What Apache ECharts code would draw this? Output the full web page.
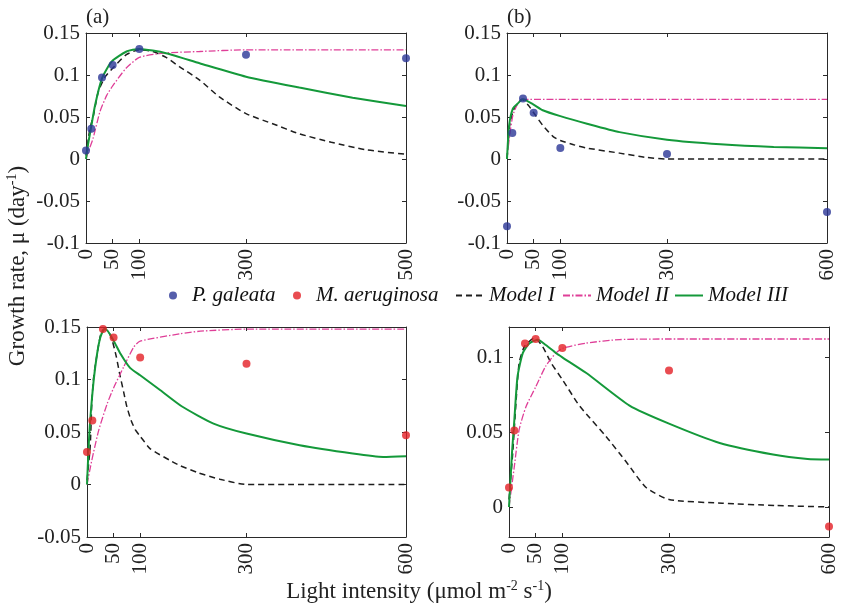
<!DOCTYPE html>
<html><head><meta charset="utf-8">
<script src="https://cdn.jsdelivr.net/npm/echarts@6/dist/echarts.min.js"></script>
<style>html,body{margin:0;padding:0;background:#fff}#c{width:841px;height:606px}</style>
</head><body><div id="c"></div>
<script>
const FONT = 'Liberation Serif';

// Tick values and labels
const xTickValues = [0, 50, 100, 300, 600];
const xTickLabelsA = ['0', '50', '100', '300', '500'];
const xTickLabelsBCD = ['0', '50', '100', '300', '600'];
const yTicksAB = [-0.1, -0.05, 0, 0.05, 0.1, 0.15];
const yTickLabelsAB = ['-0.1', '-0.05', '0', '0.05', '0.1', '0.15'];
const yTicksC = [-0.05, 0, 0.05, 0.1, 0.15];
const yTickLabelsC = ['-0.05', '0', '0.05', '0.1', '0.15'];
const yTicksD = [0, 0.05, 0.1];
const yTickLabelsD = ['0', '0.05', '0.1'];

// Panel (a) - P. galeata
const galeataA = [[0,0.010],[10,0.036],[30,0.097],[50,0.112],[100,0.131],[300,0.124],[600,0.120]];
const model1A = [[0,0.004],[7,0.035],[14,0.052],[23,0.080],[36,0.098],[50,0.108],[75,0.124],[100,0.130],[125,0.128],[150,0.121],[175,0.110],[213,0.094],[250,0.074],[300,0.054],[350,0.042],[400,0.030],[460,0.020],[525,0.011],[600,0.0056]];
const model2A = [[0,0],[5,0.010],[13,0.024],[26,0.056],[39,0.076],[50,0.087],[75,0.108],[100,0.121],[145,0.126],[213,0.128],[300,0.130],[600,0.130]];
const model3A = [[0,0],[4,0.018],[8,0.032],[17,0.064],[30,0.096],[48,0.116],[76,0.128],[100,0.131],[150,0.126],[213,0.114],[300,0.098],[400,0.085],[500,0.073],[600,0.063]];

// Panel (b) - P. galeata
const galeataB = [[0,-0.080],[10,0.031],[30,0.072],[50,0.055],[100,0.013],[300,0.006],[600,-0.063]];
const model1B = [[0,0],[5,0.040],[12,0.058],[20,0.066],[28,0.071],[40,0.064],[49,0.056],[67,0.040],[86,0.027],[100,0.022],[125,0.017],[150,0.013],[211,0.007],[260,0.002],[300,0],[600,0]];
const model2B = [[0,0],[5,0.028],[11,0.052],[20,0.066],[28,0.071],[600,0.071]];
const model3B = [[0,0],[4,0.040],[11,0.060],[20,0.066],[30,0.071],[49,0.065],[67,0.058],[100,0.051],[150,0.042],[211,0.032],[300,0.023],[400,0.0176],[500,0.0144],[600,0.0128]];

// Panel (c) - M. aeruginosa
const aerugC = [[0,0.031],[10,0.061],[30,0.148],[50,0.140],[100,0.121],[300,0.115],[600,0.047]];
const model1C = [[0,0.004],[6,0.036],[9,0.077],[12.5,0.102],[19,0.1245],[26,0.1435],[32,0.148],[40,0.146],[47,0.138],[55,0.122],[62,0.104],[69,0.088],[75,0.074],[83,0.061],[91,0.052],[100,0.046],[119,0.034],[156,0.023],[175,0.018],[210,0.011],[250,0.005],[300,0],[600,0]];
const model2C = [[0,0],[9,0.023],[22,0.0516],[38,0.077],[50,0.092],[69,0.112],[88,0.131],[100,0.1365],[175,0.1435],[213,0.146],[300,0.148],[600,0.148]];
const model3C = [[0,0],[3,0.035],[6,0.061],[12.5,0.099],[19,0.1245],[25,0.140],[31,0.147],[35,0.148],[50,0.137],[63,0.1245],[81,0.111],[100,0.104],[138,0.0897],[178,0.0745],[238,0.058],[300,0.0485],[400,0.0374],[500,0.0295],[557,0.0263],[600,0.027]];

// Panel (d) - M. aeruginosa
const aerugD = [[0,0.013],[10,0.051],[30,0.109],[50,0.112],[100,0.106],[300,0.091],[600,-0.013]];
const model1D = [[0,0.005],[7,0.036],[13,0.069],[19,0.096],[29,0.107],[48,0.1127],[63,0.107],[79,0.096],[100,0.085],[129,0.069],[145,0.062],[182,0.047],[220,0.030],[257,0.013],[300,0.005],[400,0.0025],[500,0.001],[600,0]];
const model2D = [[0,0],[10,0.027],[19,0.0515],[32,0.067],[50,0.080],[69,0.094],[88,0.1027],[102,0.106],[145,0.1093],[207,0.1116],[300,0.112],[600,0.112]];
const model3D = [[0,0],[5.6,0.036],[10,0.058],[16,0.087],[26,0.1027],[38,0.109],[54,0.1115],[69,0.108],[88,0.1027],[100,0.0998],[145,0.0893],[226,0.0676],[300,0.0556],[395,0.0427],[495,0.035],[560,0.032],[600,0.0316]];

// Legend entries
const legendNames = ['P. galeata', 'M. aeruginosa', 'Model I', 'Model II', 'Model III'];

const panels = [
  {grid:{left:86, top:33, width:320, height:210}, ymin:-0.1, ymax:0.15, yTicks:yTicksAB, yLabels:yTickLabelsAB, xLabels:xTickLabelsA, pts:galeataA, ptName:'P. galeata', m1:model1A, m2:model2A, m3:model3A},
  {grid:{left:507, top:33, width:320, height:210}, ymin:-0.1, ymax:0.15, yTicks:yTicksAB, yLabels:yTickLabelsAB, xLabels:xTickLabelsBCD, pts:galeataB, ptName:'P. galeata', m1:model1B, m2:model2B, m3:model3B},
  {grid:{left:87, top:327, width:319, height:210}, ymin:-0.05, ymax:0.15, yTicks:yTicksC, yLabels:yTickLabelsC, xLabels:xTickLabelsBCD, pts:aerugC, ptName:'M. aeruginosa', m1:model1C, m2:model2C, m3:model3C},
  {grid:{left:509, top:327, width:320, height:210}, ymin:-0.02, ymax:0.12, yTicks:yTicksD, yLabels:yTickLabelsD, xLabels:xTickLabelsBCD, pts:aerugD, ptName:'M. aeruginosa', m1:model1D, m2:model2D, m3:model3D}
];

const COLORS = {'P. galeata':'#2a3696', 'M. aeruginosa':'#e41f26', m1:'#1e1e1e', m2:'#df3f98', m3:'#14993a'};
const axisLineStyle = {color:'#2a2a2a', width:1};
const lookup = (vals, labels) => (v) => {
  const i = vals.findIndex(t => Math.abs(t - v) < 1e-9);
  return i >= 0 ? labels[i] : '';
};

const grid = [], xAxis = [], yAxis = [], series = [];
panels.forEach((p, i) => {
  grid.push(Object.assign({containLabel:false}, p.grid));
  const tickBase = {show:true, inside:true, length:4, lineStyle:axisLineStyle};
  xAxis.push({type:'value', gridIndex:i, min:0, max:600, position:'bottom',
    axisLine:{show:true, onZero:false, lineStyle:axisLineStyle},
    axisTick:Object.assign({customValues:xTickValues}, tickBase),
    axisLabel:{customValues:xTickValues, rotate:90, margin:6, formatter:lookup(xTickValues, p.xLabels),
      fontFamily:FONT, fontSize:21, color:'#222'},
    splitLine:{show:false}});
  xAxis.push({type:'value', gridIndex:i, min:0, max:600, position:'top',
    axisLine:{show:true, onZero:false, lineStyle:axisLineStyle},
    axisTick:Object.assign({customValues:xTickValues}, tickBase),
    axisLabel:{show:false}, splitLine:{show:false}});
  yAxis.push({type:'value', gridIndex:i, min:p.ymin, max:p.ymax, position:'left',
    axisLine:{show:true, onZero:false, lineStyle:axisLineStyle},
    axisTick:Object.assign({customValues:p.yTicks}, tickBase),
    axisLabel:{customValues:p.yTicks, margin:6, formatter:lookup(p.yTicks, p.yLabels),
      fontFamily:FONT, fontSize:21, color:'#222'},
    splitLine:{show:false}});
  yAxis.push({type:'value', gridIndex:i, min:p.ymin, max:p.ymax, position:'right',
    axisLine:{show:true, onZero:false, lineStyle:axisLineStyle},
    axisTick:Object.assign({customValues:p.yTicks}, tickBase),
    axisLabel:{show:false}, splitLine:{show:false}});
  const xi = 2*i, yi = 2*i;
  series.push({name:'Model I', type:'line', xAxisIndex:xi, yAxisIndex:yi, data:p.m1, symbol:'none', z:3,
    smooth:0.2,
    lineStyle:{color:COLORS.m1, width:1.5, type:[6,4]}, itemStyle:{color:COLORS.m1}});
  series.push({name:'Model II', type:'line', xAxisIndex:xi, yAxisIndex:yi, data:p.m2, symbol:'none', z:3,
    smooth:0.2,
    lineStyle:{color:COLORS.m2, width:1.3, type:[7,2,1.5,2]}, itemStyle:{color:COLORS.m2}});
  series.push({name:'Model III', type:'line', xAxisIndex:xi, yAxisIndex:yi, data:p.m3, symbol:'none', z:4,
    smooth:0.2,
    lineStyle:{color:COLORS.m3, width:2}, itemStyle:{color:COLORS.m3}});
  series.push({name:p.ptName, type:'scatter', xAxisIndex:xi, yAxisIndex:yi, data:p.pts, symbol:'circle', symbolSize:8, z:6,
    itemStyle:{color:COLORS[p.ptName]}});
});

// one legend component per entry, to match the reference spacing
const legendLefts = [169, 293, 455, 562, 674];
const legend = legendNames.map((name, k) => ({
  left: legendLefts[k], top: 285, itemWidth: 28, itemHeight: 8, itemGap: 0, padding: 0,
  data: [k < 2 ? name : {name: name, itemStyle: {opacity: 0}}],
  textStyle: {fontFamily: FONT, fontStyle: 'italic', fontSize: 21, color: '#111'}
}));

const titleRich = {n:{fontFamily:FONT, fontSize:23, lineHeight:25, fill:'#222'}, s:{fontFamily:FONT, fontSize:14, lineHeight:14, verticalAlign:'top', fill:'#222'}};
const option = {
  animation:false,
  backgroundColor:'#fff',
  grid, xAxis, yAxis, series, legend,
  graphic:[
    {type:'text', left:86, top:7, style:{text:'(a)', font:'21px "Liberation Serif"', fill:'#222'}},
    {type:'text', left:507, top:7, style:{text:'(b)', font:'21px "Liberation Serif"', fill:'#222'}},
    {type:'text', x:18, y:266, rotation:Math.PI/2,
      style:{text:'{n|Growth rate, μ (day}{s|-1}{n|)}', align:'center', verticalAlign:'middle', fill:'#222', rich:titleRich}},
    {type:'text', x:419, y:592,
      style:{text:'{n|Light intensity (μmol m}{s|-2}{n| s}{s|-1}{n|)}', align:'center', verticalAlign:'middle', fill:'#222', rich:titleRich}}
  ]
};
const chart = echarts.init(document.getElementById('c'), null, {renderer:'canvas'});
chart.setOption(option);
</script></body></html>
